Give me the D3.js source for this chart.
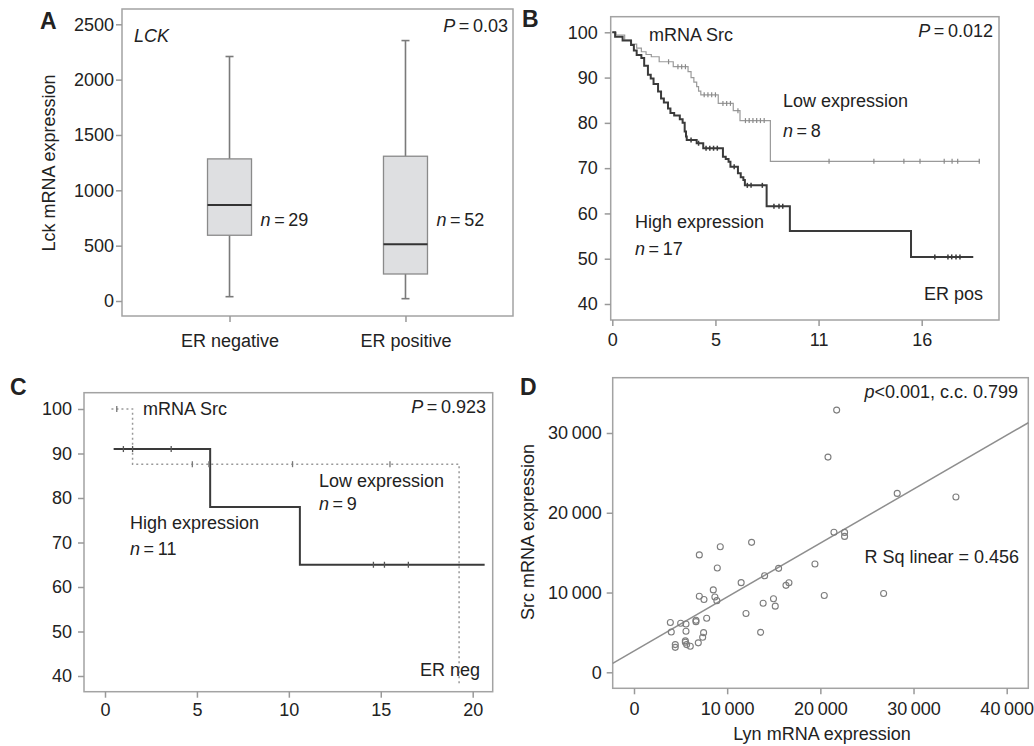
<!DOCTYPE html>
<html>
<head>
<meta charset="utf-8">
<script src="https://cdnjs.cloudflare.com/ajax/libs/d3/7.8.5/d3.min.js"></script>
<style>
body{margin:0;background:#fff;}
text{font-family:"Liberation Sans",Arial,sans-serif;fill:#222;}
</style>
</head>
<body>
<div id="chart"></div>
<script>
// ---- panel A : box plot
const aGroups = ["ER negative", "ER positive"];
const aWhiskerLow = [39, 21];
const aQ1 = [594, 244];
const aMedian = [868, 512];
const aQ3 = [1284, 1308];
const aWhiskerHigh = [2209, 2353];
const aCounts = [29, 52];
const aTicksY = [0, 500, 1000, 1500, 2000, 2500];
const aTickLabelsY = ["0", "500", "1000", "1500", "2000", "2500"];

// ---- panel B : KM, ER positive  [time, survival %]
const bTicksX = [0, 5.5, 11, 16.5];
const bTickLabelsX = ["0", "5", "11", "16"];
const bTicksY = [40, 50, 60, 70, 80, 90, 100];
const bHigh = [[0,100],[0.15,99.0],[0.55,98.2],[1.0,97.2],[1.15,96.0],[1.3,95.0],[1.55,94.3],[1.7,92.6],[1.9,90.6],[2.05,89.8],[2.2,88.6],[2.44,86.9],[2.6,85.4],[2.75,84.5],[2.97,83.2],[3.1,82.2],[3.3,81.6],[3.6,80.8],[3.75,80.0],[3.86,78.1],[3.93,77.0],[3.97,76.2],[4.5,75.5],[4.85,74.4],[5.9,72.5],[6.05,72.0],[6.2,71.4],[6.3,70.3],[6.7,68.9],[6.85,68.0],[6.99,67.4],[7.07,66.2],[8.23,61.6],[9.47,56.1],[15.93,50.4],[19.25,50.4]];
const bLow = [[0,100],[0.2,99.4],[0.66,98.3],[1.0,97.4],[1.3,96.5],[1.55,95.7],[1.8,95.1],[2.08,94.6],[2.5,93.5],[3.25,92.4],[4.04,91.3],[4.2,90.0],[4.35,89.0],[4.5,88.0],[4.6,87.0],[4.72,86.2],[5.65,84.3],[6.45,82.7],[6.81,80.5],[8.43,71.5],[19.6,71.5]];
const bHighCensor = [4.2, 4.6, 5.0, 5.2, 5.4, 5.6, 6.5, 7.2, 7.4, 8.0, 8.62, 8.89, 9.09, 17.2, 17.9, 18.1, 18.33, 18.54];
const bLowCensor = [3.0, 3.5, 3.7, 3.9, 4.9, 5.1, 5.3, 5.5, 5.9, 6.1, 6.3, 6.7, 7.1, 7.3, 7.5, 7.7, 7.9, 8.1, 11.56, 13.95, 15.55, 16.41, 17.7, 18.12, 18.42, 19.57];

// ---- panel C : KM, ER negative
const cTicksX = [0, 5, 10, 15, 20];
const cTicksY = [40, 50, 60, 70, 80, 90, 100];
const cHigh = [[0.47,91],[5.72,78],[10.6,65],[20.65,65]];
const cLow = [[0.35,100],[1.5,87.6],[19.26,38],[19.26,38]];
const cHighCensor = [1.0, 1.5, 3.6, 14.6, 15.2, 16.5];
const cLowCensor = [0.64, 4.75, 5.65, 10.2, 15.5];

// ---- panel D : scatter Lyn vs Src
const dLyn = [21750,20820,28250,34550,21460,22600,22600,12620,9260,7010,19420,8940,15520,14020,11500,16630,16310,8510,26790,20420,7010,8680,7510,8890,14970,13860,15160,12020,7800,6650,6650,3900,5010,5580,4000,5580,7470,7370,6900,5510,5510,5650,6040,4430,4430,13590];
const dSrc = [32870,26980,22430,21970,17560,17540,17040,16290,15740,14720,13580,13070,13030,12100,11240,11230,10900,10330,9880,9630,9530,9440,9130,8980,9230,8650,8290,7370,6770,6350,6520,6240,6140,6060,5050,5140,4970,4390,3690,3940,3760,3470,3260,3470,3130,5010];
const dTicksX = [0, 10000, 20000, 30000, 40000];
const dTickLabelsX = ["0", "10\u2009000", "20\u2009000", "30\u2009000", "40\u2009000"];
const dTicksY = [0, 10000, 20000, 30000];
const dTickLabelsY = ["0", "10\u2009000", "20\u2009000", "30\u2009000"];
const dFitIntercept = 2676;
const dFitSlope = 0.676;

const FS = 18;
const svg = d3.select("#chart").append("svg").attr("width", 1034).attr("height", 746);

function frame(x0, x1, y0, y1){
  svg.append("rect").attr("x", x0).attr("y", y0).attr("width", x1 - x0).attr("height", y1 - y0)
    .attr("fill", "none").attr("stroke", "#a3a3a3").attr("stroke-width", 1.5);
}
function styleAxis(g){
  g.select(".domain").remove();
  g.selectAll(".tick line").attr("stroke", "#999").attr("stroke-width", 1.5);
  g.selectAll("text").attr("font-size", FS).attr("fill", "#222")
    .style("font-family", '"Liberation Sans",Arial,sans-serif');
}
function label(x, y, parts, anchor, size, weight){
  const t = svg.append("text").attr("x", x).attr("y", y).attr("text-anchor", anchor || "start")
    .attr("font-size", size || FS).attr("font-weight", weight || "normal");
  parts.forEach(p => {
    const s = t.append("tspan").text(p[0]);
    if (p[1]) s.attr("font-style", "italic");
  });
  return t;
}
function survAt(steps, t){
  let s = steps[0][1];
  steps.forEach(d => { if (d[0] <= t) s = d[1]; });
  return s;
}
const T = "\u2009";

// ================= A
frame(122, 513, 9, 316);
const ay = d3.scaleLinear().domain([0, 2500]).range([301, 24.3]);
const ax = d3.scalePoint().domain(aGroups).range([122, 513]).padding(0.611);
svg.append("g").attr("transform", "translate(122,0)")
  .call(d3.axisLeft(ay).tickValues(aTicksY).tickSize(6).tickPadding(2)
    .tickFormat((d, i) => aTickLabelsY[i])).call(styleAxis);
svg.append("g").attr("transform", "translate(0,316)")
  .call(d3.axisBottom(ax).tickSize(6).tickPadding(12)).call(styleAxis);
const bw = 44;
aGroups.forEach((g, i) => {
  const cx = ax(g);
  const wg = svg.append("g").attr("stroke", "#7a7a7a").attr("stroke-width", 1.6);
  wg.append("line").attr("x1", cx).attr("x2", cx).attr("y1", ay(aWhiskerHigh[i])).attr("y2", ay(aQ3[i]));
  wg.append("line").attr("x1", cx).attr("x2", cx).attr("y1", ay(aQ1[i])).attr("y2", ay(aWhiskerLow[i]));
  wg.append("line").attr("x1", cx - 4).attr("x2", cx + 4).attr("y1", ay(aWhiskerHigh[i])).attr("y2", ay(aWhiskerHigh[i]));
  wg.append("line").attr("x1", cx - 4).attr("x2", cx + 4).attr("y1", ay(aWhiskerLow[i])).attr("y2", ay(aWhiskerLow[i]));
  svg.append("rect").attr("x", cx - bw / 2).attr("width", bw)
    .attr("y", ay(aQ3[i])).attr("height", ay(aQ1[i]) - ay(aQ3[i]))
    .attr("fill", "#dedfe1").attr("stroke", "#8a8a8a").attr("stroke-width", 1.3);
  svg.append("line").attr("x1", cx - bw / 2).attr("x2", cx + bw / 2)
    .attr("y1", ay(aMedian[i])).attr("y2", ay(aMedian[i])).attr("stroke", "#333").attr("stroke-width", 2);
  label(cx + bw / 2 + 9, 226, [["n", 1], [T + "=" + T + aCounts[i]]]);
});
label(134, 42, [["LCK", 1]]);
label(508, 32, [["P", 1], [T + "=" + T + "0.03"]], "end");
label(40, 29, [["A"]], "start", 23, "bold");
svg.append("text").attr("transform", "translate(55,163) rotate(-90)").attr("text-anchor", "middle")
  .attr("font-size", FS).text("Lck mRNA expression");

// ================= B
frame(610.7, 999, 16.7, 320);
const bx = d3.scaleLinear().domain([0, 16.5]).range([612.3, 921.7]);
const by = d3.scaleLinear().domain([40, 100]).range([304, 32.3]);
svg.append("g").attr("transform", "translate(610.7,0)")
  .call(d3.axisLeft(by).tickValues(bTicksY).tickSize(6).tickPadding(7)).call(styleAxis);
svg.append("g").attr("transform", "translate(0,320)")
  .call(d3.axisBottom(bx).tickValues(bTicksX).tickSize(6).tickPadding(7)
    .tickFormat((d, i) => bTickLabelsX[i])).call(styleAxis);
const bLine = d3.line().x(d => bx(d[0])).y(d => by(d[1])).curve(d3.curveStepAfter);
svg.append("path").attr("d", bLine(bLow)).attr("fill", "none").attr("stroke", "#9a9a9a").attr("stroke-width", 1.2);
svg.append("path").attr("d", bLine(bHigh)).attr("fill", "none").attr("stroke", "#3a3a3a").attr("stroke-width", 2);
svg.append("g").selectAll("line").data(bLowCensor).enter().append("line")
  .attr("x1", d => bx(d)).attr("x2", d => bx(d))
  .attr("y1", d => by(survAt(bLow, d)) - 2.5).attr("y2", d => by(survAt(bLow, d)) + 2.5)
  .attr("stroke", "#8a8a8a").attr("stroke-width", 1.2);
svg.append("g").selectAll("line").data(bHighCensor).enter().append("line")
  .attr("x1", d => bx(d)).attr("x2", d => bx(d))
  .attr("y1", d => by(survAt(bHigh, d)) - 2.5).attr("y2", d => by(survAt(bHigh, d)) + 2.5)
  .attr("stroke", "#3a3a3a").attr("stroke-width", 1.5);
label(522, 27, [["B"]], "start", 23, "bold");
label(649, 41, [["mRNA Src"]]);
label(993, 37, [["P", 1], [T + "=" + T + "0.012"]], "end");
label(783, 107, [["Low expression"]]);
label(783, 137, [["n", 1], [T + "=" + T + "8"]]);
label(635, 228, [["High expression"]]);
label(635, 255, [["n", 1], [T + "=" + T + "17"]]);
label(983, 300, [["ER pos"]], "end");

// ================= C
frame(84, 492.7, 392.7, 691.7);
const cx = d3.scaleLinear().domain([0, 20]).range([105, 472.7]);
const cy = d3.scaleLinear().domain([40, 100]).range([676, 409]);
svg.append("g").attr("transform", "translate(84,0)")
  .call(d3.axisLeft(cy).tickValues(cTicksY).tickSize(6).tickPadding(6)).call(styleAxis);
svg.append("g").attr("transform", "translate(0,691.7)")
  .call(d3.axisBottom(cx).tickValues(cTicksX).tickSize(6).tickPadding(6)).call(styleAxis);
const cLine = d3.line().x(d => cx(d[0])).y(d => cy(d[1])).curve(d3.curveStepAfter);
svg.append("path").attr("d", cLine(cLow)).attr("fill", "none").attr("stroke", "#999")
  .attr("stroke-width", 1.5).attr("stroke-dasharray", "2,3");
svg.append("path").attr("d", cLine(cHigh)).attr("fill", "none").attr("stroke", "#3a3a3a").attr("stroke-width", 2);
svg.append("g").selectAll("line").data(cLowCensor).enter().append("line")
  .attr("x1", d => cx(d)).attr("x2", d => cx(d))
  .attr("y1", d => cy(survAt(cLow, d)) - 3).attr("y2", d => cy(survAt(cLow, d)) + 3)
  .attr("stroke", "#777").attr("stroke-width", 1.3);
svg.append("g").selectAll("line").data(cHighCensor).enter().append("line")
  .attr("x1", d => cx(d)).attr("x2", d => cx(d))
  .attr("y1", d => cy(survAt(cHigh, d)) - 3).attr("y2", d => cy(survAt(cHigh, d)) + 3)
  .attr("stroke", "#555").attr("stroke-width", 1.3);
label(10, 395, [["C"]], "start", 23, "bold");
label(143, 415, [["mRNA Src"]]);
label(486, 413, [["P", 1], [T + "=" + T + "0.923"]], "end");
label(319, 487, [["Low expression"]]);
label(319, 510, [["n", 1], [T + "=" + T + "9"]]);
label(130, 529, [["High expression"]]);
label(130, 555, [["n", 1], [T + "=" + T + "11"]]);
label(480, 676, [["ER neg"]], "end");

// ================= D
frame(612.7, 1028.3, 377.7, 688.3);
const dx = d3.scaleLinear().domain([0, 40000]).range([634, 1006.7]);
const dy = d3.scaleLinear().domain([0, 30000]).range([672.3, 433]);
svg.append("g").attr("transform", "translate(612.7,0)")
  .call(d3.axisLeft(dy).tickValues(dTicksY).tickSize(6).tickPadding(5)
    .tickFormat((d, i) => dTickLabelsY[i])).call(styleAxis);
svg.append("g").attr("transform", "translate(0,688.3)")
  .call(d3.axisBottom(dx).tickValues(dTicksX).tickSize(6).tickPadding(8)
    .tickFormat((d, i) => dTickLabelsX[i])).call(styleAxis);
const fx0 = dx.invert(612.7), fx1 = dx.invert(1028.3);
svg.append("line").attr("x1", dx(fx0)).attr("y1", dy(dFitIntercept + dFitSlope * fx0))
  .attr("x2", dx(fx1)).attr("y2", dy(dFitIntercept + dFitSlope * fx1))
  .attr("stroke", "#8e8e8e").attr("stroke-width", 1.5);
svg.append("g").selectAll("circle").data(dLyn).enter().append("circle")
  .attr("cx", d => dx(d)).attr("cy", (d, i) => dy(dSrc[i])).attr("r", 3)
  .attr("fill", "none").attr("stroke", "#7d7d7d").attr("stroke-width", 1.1);
label(520, 395, [["D"]], "start", 23, "bold");
label(1018, 398, [["p", 1], ["<0.001, c.c. 0.799"]], "end");
label(1019, 563, [["R Sq linear = 0.456"]], "end");
label(822, 740, [["Lyn mRNA expression"]], "middle");
svg.append("text").attr("transform", "translate(534,532) rotate(-90)").attr("text-anchor", "middle")
  .attr("font-size", FS).text("Src mRNA expression");
</script>
</body>
</html>
